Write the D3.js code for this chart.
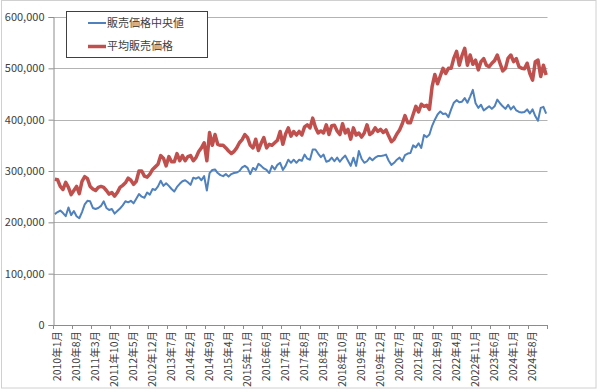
<!DOCTYPE html>
<html><head><meta charset="utf-8">
<script src="https://cdn.jsdelivr.net/npm/d3@7"></script>
<style>
html,body{margin:0;padding:0;background:#fff;}
svg{display:block;font-family:"Noto Sans CJK JP","Noto Sans",sans-serif;}
</style></head>
<body>
<svg id="chart" width="600" height="392"></svg>
<script>
// Months: 2010年1月 .. 2025年2月
const startYear = 2010, monthCount = 182;
const months = [];
for (let i = 0; i < monthCount; i++) {
  const yr = startYear + Math.floor(i / 12), m = (i % 12) + 1;
  months.push(`${yr}年${m}月`);
}
const seriesNames = ["販売価格中央値", "平均販売価格"];
// 販売価格中央値 (median price), thousands of yen
const medianK = [
216,220,223,218,212,229,214,222,212,208,220,235,
242,241,228,226,228,232,241,228,224,226,217,222,
227,233,241,239,242,237,246,255,250,248,258,254,
265,263,270,281,271,276,271,265,260,269,275,280,
282,278,273,287,285,288,282,290,262,296,302,303,
296,292,290,294,289,294,296,297,300,307,310,306,
294,306,302,314,310,305,302,296,310,303,312,316,
302,310,322,316,322,316,322,320,332,324,322,342,
342,334,327,332,318,320,326,319,326,318,325,330,
320,310,326,310,339,324,316,319,326,321,326,329,
329,330,332,320,312,316,322,326,319,331,334,335,
350,346,354,345,370,366,371,388,400,410,416,411,
412,405,420,433,438,434,435,442,433,445,458,432,
423,429,418,422,426,421,426,439,432,426,421,429,
420,426,418,415,414,415,420,412,420,407,398,423,
425,412];
// 平均販売価格 (average price), thousands of yen
const averageK = [
284,283,270,264,278,268,254,262,270,256,280,289,
285,270,265,262,268,270,268,262,255,258,251,258,
268,272,277,286,282,274,280,300,300,290,288,294,
303,308,313,330,325,310,328,318,318,334,320,330,
320,328,330,320,326,338,345,355,320,375,350,371,
352,350,350,345,339,334,338,345,355,361,371,365,
350,345,362,340,354,365,345,352,350,355,360,377,
352,372,384,368,377,370,377,370,386,390,384,403,
385,374,378,374,390,371,388,389,378,371,392,374,
381,362,384,370,374,366,374,390,371,375,384,377,
381,375,380,368,357,362,372,380,392,408,394,394,
410,426,415,430,426,428,420,465,488,470,485,500,
490,500,500,520,533,506,525,539,506,526,508,516,
497,513,519,506,503,510,515,526,510,495,500,520,
526,513,519,503,500,499,510,490,477,513,516,484,
506,487];
const yTicks = [0,100000,200000,300000,400000,500000,600000];
const labelStep = 7;

const svg = d3.select("#chart");
// outer chart border
svg.append("rect").attr("x",1.5).attr("y",0.5).attr("width",594.5).attr("height",387.5)
  .attr("fill","#fff").attr("stroke","#d0d0d0").attr("stroke-width",1);

const pLeft = 53.5, pRight = 547.5, pTop = 17, pBottom = 325;
const x = d3.scaleBand().domain(months).range([pLeft, pRight]).padding(0);
const y = d3.scaleLinear().domain([0, 600000]).range([pBottom, pTop]);
const cx = d => x(d) + x.bandwidth() / 2;

// gridlines
svg.append("g").selectAll("line").data(yTicks.filter(v => v > 0)).join("line")
  .attr("x1", pLeft).attr("x2", pRight)
  .attr("y1", d => Math.round(y(d)) + 0.5).attr("y2", d => Math.round(y(d)) + 0.5)
  .attr("stroke", "#b3b3b3").attr("stroke-width", 1);

// y axis
const yAxis = svg.append("g").attr("transform", `translate(${pLeft},0)`)
  .call(d3.axisLeft(y).tickValues(yTicks).tickFormat(d3.format(",")).tickSize(5).tickPadding(4));
yAxis.select(".domain").attr("stroke", "#8c8c8c");
yAxis.selectAll(".tick line").attr("stroke", "#8c8c8c");
yAxis.selectAll(".tick text").attr("font-size", 11).attr("fill", "#404040")
  .attr("font-family", "'Noto Sans CJK JP',sans-serif");

// x axis line
svg.append("line").attr("x1", pLeft).attr("x2", pRight).attr("y1", pBottom + 0.5).attr("y2", pBottom + 0.5)
  .attr("stroke", "#8c8c8c");
// x tick marks at category boundaries every 7 months
const tickIdx = d3.range(0, monthCount + 1, labelStep);
svg.append("g").selectAll("line").data(tickIdx).join("line")
  .attr("x1", i => (i < monthCount ? x(months[i]) : pRight))
  .attr("x2", i => (i < monthCount ? x(months[i]) : pRight))
  .attr("y1", pBottom).attr("y2", pBottom + 4)
  .attr("stroke", "#8c8c8c");
// x labels
const labelIdx = d3.range(0, monthCount, labelStep);
svg.append("g").selectAll("text").data(labelIdx).join("text")
  .attr("transform", i => `translate(${cx(months[i]) + 2.2},${pBottom + 6}) rotate(-90)`)
  .attr("text-anchor", "end").attr("dy", "0.35em")
  .attr("font-size", 10.5).attr("fill", "#404040")
  .text(i => months[i]);

// lines
const line = d3.line().x((d, i) => cx(months[i])).y(d => y(d * 1000));
svg.append("path").datum(medianK).attr("d", line)
  .attr("fill", "none").attr("stroke", "#4f81bd").attr("stroke-width", 2).attr("stroke-linejoin", "round");
svg.append("path").datum(averageK).attr("d", line)
  .attr("fill", "none").attr("stroke", "#c0504d").attr("stroke-width", 3.5).attr("stroke-linejoin", "round");

// legend
const lg = svg.append("g");
lg.append("rect").attr("x", 66.5).attr("y", 11.5).attr("width", 141).attr("height", 46)
  .attr("fill", "#fff").attr("stroke", "#404040").attr("stroke-width", 1);
const legendColors = ["#4f81bd", "#c0504d"], legendW = [2, 3.5];
seriesNames.forEach((n, k) => {
  const yy = 23 + k * 23.5;
  lg.append("line").attr("x1", 88).attr("x2", 106).attr("y1", yy).attr("y2", yy)
    .attr("stroke", legendColors[k]).attr("stroke-width", legendW[k]);
  lg.append("text").attr("x", 107).attr("y", yy).attr("dy", "0.35em")
    .attr("font-size", 11).attr("fill", "#404040").text(n);
});
</script>
</body></html>
